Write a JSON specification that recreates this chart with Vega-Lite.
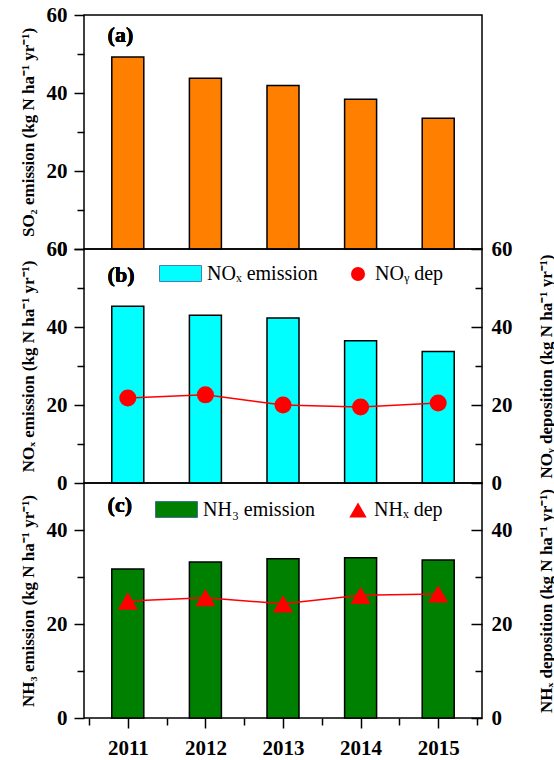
{
  "$schema": "https://vega.github.io/schema/vega-lite/v6.json",
  "padding": {"left": 18, "top": 3, "right": 0, "bottom": 0},
  "bounds": "flush",
  "spacing": 0,
  "config": {
    "font": "Liberation Serif",
    "view": {"stroke": "black", "strokeWidth": 1.5},
    "axis": {
      "domain": false,
      "grid": false,
      "tickCount": 30,
      "labelFont": "Liberation Serif",
      "labelFontSize": 21,
      "labelFontWeight": "bold",
      "labelColor": "black",
      "labelOverlap": false,
      "labelFlush": false,
      "titleFont": "Liberation Serif",
      "titleFontSize": 17,
      "titleFontWeight": "bold",
      "titleColor": "black",
      "tickColor": "black",
      "tickWidth": 1.5
    },
    "legend": {
      "labelFont": "Liberation Serif",
      "labelFontSize": 20,
      "labelColor": "black",
      "padding": 0
    }
  },
  "datasets": {
    "emis": [
      {"year": 2011, "so2": 49.2, "nox": 45.3, "noy_dep": 21.8, "nh3": 31.7, "nhx_dep": 24.9},
      {"year": 2012, "so2": 43.8, "nox": 43.0, "noy_dep": 22.6, "nh3": 33.2, "nhx_dep": 25.6},
      {"year": 2013, "so2": 41.9, "nox": 42.3, "noy_dep": 20.0, "nh3": 33.9, "nhx_dep": 24.3},
      {"year": 2014, "so2": 38.4, "nox": 36.5, "noy_dep": 19.5, "nh3": 34.1, "nhx_dep": 26.1},
      {"year": 2015, "so2": 33.5, "nox": 33.7, "noy_dep": 20.5, "nh3": 33.6, "nhx_dep": 26.4}
    ]
  },
  "resolve": {
    "scale": {"fill": "independent", "shape": "independent"},
    "legend": {"fill": "independent", "shape": "independent"}
  },
  "vconcat": [
    {
      "width": 398,
      "height": 234,
      "data": {"name": "emis"},
      "layer": [
        {
          "mark": {"type": "bar", "size": 32, "fill": "#FF8000", "stroke": "black", "strokeWidth": 1.5},
          "encoding": {
            "x": {"field": "year", "type": "quantitative", "scale": {"domain": [2010.5, 2015.5], "nice": false, "zero": false}, "axis": null},
            "y": {
              "field": "so2", "type": "quantitative",
              "scale": {"domain": [0, 60], "nice": false},
              "axis": {
                "values": [0, 10, 20, 30, 40, 50, 60],
                "tickCount": 30,
                "labelExpr": "datum.value % 20 === 0 ? datum.label : ''",
                "tickSize": {"condition": {"test": "datum.value % 20 === 0", "value": 10}, "value": 7},
                "labelPadding": 7,
                "title": "SO₂ emission (kg N ha⁻¹ yr⁻¹)",
                "titlePadding": 9
              }
            }
          }
        },
        {
          "mark": {"type": "text", "text": "(a)", "fontSize": 22, "fontWeight": "bold", "align": "left", "baseline": "middle", "color": "black"},
          "encoding": {
            "x": {"datum": 2010.74, "type": "quantitative"},
            "y": {"datum": 54.9, "type": "quantitative"}
          }
        }
      ]
    },
    {
      "width": 398,
      "height": 234,
      "data": {"name": "emis"},
      "resolve": {"scale": {"y": "independent"}},
      "layer": [
        {
          "layer": [
            {
              "mark": {"type": "bar", "size": 32, "stroke": "black", "strokeWidth": 1.5},
              "encoding": {
                "x": {"field": "year", "type": "quantitative", "scale": {"domain": [2010.5, 2015.5], "nice": false, "zero": false}, "axis": null},
                "y": {
                  "field": "nox", "type": "quantitative",
                  "scale": {"domain": [0, 60], "nice": false},
                  "axis": {
                    "orient": "left",
                    "values": [0, 10, 20, 30, 40, 50, 60],
                    "tickCount": 30,
                    "labelExpr": "datum.value % 20 === 0 ? datum.label : ''",
                    "tickSize": {"condition": {"test": "datum.value % 20 === 0", "value": 10}, "value": 7},
                    "labelPadding": 7,
                    "title": "NOₓ emission (kg N ha⁻¹ yr⁻¹)",
                    "titlePadding": 9
                  }
                },
                "fill": {
                  "datum": "NOₓ emission", "type": "nominal",
                  "scale": {"range": ["#00FFFF"]},
                  "legend": {
                    "title": null, "orient": "none", "legendX": 75, "legendY": 3,
                    "symbolType": "M-1,-0.38H1V0.38H-1Z", "symbolSize": 1764,
                    "symbolStrokeColor": "#4A7EBB", "symbolStrokeWidth": 1,
                    "labelOffset": 5,
                    "encode": {"symbols": {"update": {"fill": {"value": "#50F2F2"}, "stroke": {"value": "#4A7EBB"}}}}
                  }
                }
              }
            },
            {
              "mark": {"type": "text", "text": "(b)", "fontSize": 22, "fontWeight": "bold", "align": "left", "baseline": "middle", "color": "black"},
              "encoding": {
                "x": {"datum": 2010.74, "type": "quantitative"},
                "y": {"datum": 53.3, "type": "quantitative"}
              }
            }
          ]
        },
        {
          "layer": [
            {
              "mark": {"type": "line", "color": "#FF0000", "strokeWidth": 1.5},
              "encoding": {
                "x": {"field": "year", "type": "quantitative", "scale": {"domain": [2010.5, 2015.5], "nice": false, "zero": false}, "axis": null},
                "y": {
                  "field": "noy_dep", "type": "quantitative",
                  "scale": {"domain": [0, 60], "nice": false},
                  "axis": {
                    "orient": "right",
                    "values": [0, 10, 20, 30, 40, 50, 60],
                    "tickCount": 30,
                    "labelExpr": "datum.value % 20 === 0 ? datum.label : ''",
                    "tickSize": {"condition": {"test": "datum.value % 20 === 0", "value": -11}, "value": -7},
                    "labelPadding": 20,
                    "title": "NOᵧ deposition (kg N ha⁻¹ yr⁻¹)",
                    "titleAngle": -90,
                    "titleBaseline": "top",
                    "titlePadding": 26
                  }
                }
              }
            },
            {
              "mark": {"type": "point", "filled": true, "color": "#FF0000", "opacity": 1, "size": 290},
              "encoding": {
                "x": {"field": "year", "type": "quantitative"},
                "y": {"field": "noy_dep", "type": "quantitative"},
                "shape": {
                  "datum": "NOᵧ dep", "type": "nominal",
                  "scale": {"range": ["circle"]},
                  "legend": {
                    "title": null, "orient": "none", "legendX": 264, "legendY": 15,
                    "symbolSize": 196, "symbolFillColor": "#FF0000", "symbolStrokeColor": "black", "symbolStrokeWidth": 1,
                    "labelOffset": 7,
                    "encode": {"symbols": {"update": {"fill": {"value": "#FF0000"}, "stroke": {"value": "black"}, "opacity": {"value": 1}}}}
                  }
                }
              }
            }
          ]
        }
      ]
    },
    {
      "width": 398,
      "height": 235,
      "data": {"name": "emis"},
      "resolve": {"scale": {"y": "independent"}},
      "layer": [
        {
          "layer": [
            {
              "mark": {"type": "bar", "size": 32, "stroke": "black", "strokeWidth": 1.5},
              "encoding": {
                "x": {
                  "field": "year", "type": "quantitative",
                  "scale": {"domain": [2010.5, 2015.5], "nice": false, "zero": false},
                  "axis": {
                    "values": [2010.5, 2011, 2011.5, 2012, 2012.5, 2013, 2013.5, 2014, 2014.5, 2015, 2015.5],
                    "tickCount": 30,
                    "labelExpr": "datum.value % 1 < 0.25 ? format(datum.value, '.0f') : ''",
                    "tickSize": {"condition": {"test": "datum.value % 1 < 0.25", "value": 10}, "value": 7},
                    "labelPadding": 9,
                    "title": null
                  }
                },
                "y": {
                  "field": "nh3", "type": "quantitative",
                  "scale": {"domain": [0, 50], "nice": false},
                  "axis": {
                    "orient": "left",
                    "values": [0, 10, 20, 30, 40],
                    "tickCount": 30,
                    "labelExpr": "datum.value % 20 === 0 ? datum.label : ''",
                    "tickSize": {"condition": {"test": "datum.value % 20 === 0", "value": 10}, "value": 7},
                    "labelPadding": 7,
                    "title": "NH₃ emission (kg N ha⁻¹ yr⁻¹)",
                    "titlePadding": 9
                  }
                },
                "fill": {
                  "datum": "NH₃ emission", "type": "nominal",
                  "scale": {"range": ["#008000"]},
                  "legend": {
                    "title": null, "orient": "none", "legendX": 71, "legendY": 5,
                    "symbolType": "M-1,-0.38H1V0.38H-1Z", "symbolSize": 1764,
                    "symbolStrokeColor": "#41719C", "symbolStrokeWidth": 1,
                    "labelOffset": 5,
                    "encode": {"symbols": {"update": {"fill": {"value": "#548235"}, "stroke": {"value": "#41719C"}}}}
                  }
                }
              }
            },
            {
              "mark": {"type": "text", "text": "(c)", "fontSize": 22, "fontWeight": "bold", "align": "left", "baseline": "middle", "color": "black"},
              "encoding": {
                "x": {"datum": 2010.74, "type": "quantitative"},
                "y": {"datum": 45.3, "type": "quantitative"}
              }
            }
          ]
        },
        {
          "layer": [
            {
              "mark": {"type": "line", "color": "#FF0000", "strokeWidth": 1.5},
              "encoding": {
                "x": {"field": "year", "type": "quantitative"},
                "y": {
                  "field": "nhx_dep", "type": "quantitative",
                  "scale": {"domain": [0, 50], "nice": false},
                  "axis": {
                    "orient": "right",
                    "values": [0, 10, 20, 30, 40],
                    "tickCount": 30,
                    "labelExpr": "datum.value % 20 === 0 ? datum.label : ''",
                    "tickSize": {"condition": {"test": "datum.value % 20 === 0", "value": -11}, "value": -7},
                    "labelPadding": 20,
                    "title": "NHₓ deposition (kg N ha⁻¹ yr⁻¹)",
                    "titleAngle": -90,
                    "titleBaseline": "top",
                    "titlePadding": 26
                  }
                }
              }
            },
            {
              "mark": {"type": "point", "filled": true, "color": "#FF0000", "opacity": 1, "size": 400},
              "encoding": {
                "x": {"field": "year", "type": "quantitative"},
                "y": {"field": "nhx_dep", "type": "quantitative"},
                "shape": {
                  "datum": "NHₓ dep", "type": "nominal",
                  "scale": {"range": ["triangle-up"]},
                  "legend": {
                    "title": null, "orient": "none", "legendX": 264, "legendY": 17,
                    "symbolSize": 300, "symbolFillColor": "#FF0000", "symbolStrokeColor": "#2F5597", "symbolStrokeWidth": 1,
                    "labelOffset": 6,
                    "encode": {"symbols": {"update": {"fill": {"value": "#FF0000"}, "stroke": {"value": "#2F5597"}, "opacity": {"value": 1}}}}
                  }
                }
              }
            }
          ]
        }
      ]
    }
  ]
}
